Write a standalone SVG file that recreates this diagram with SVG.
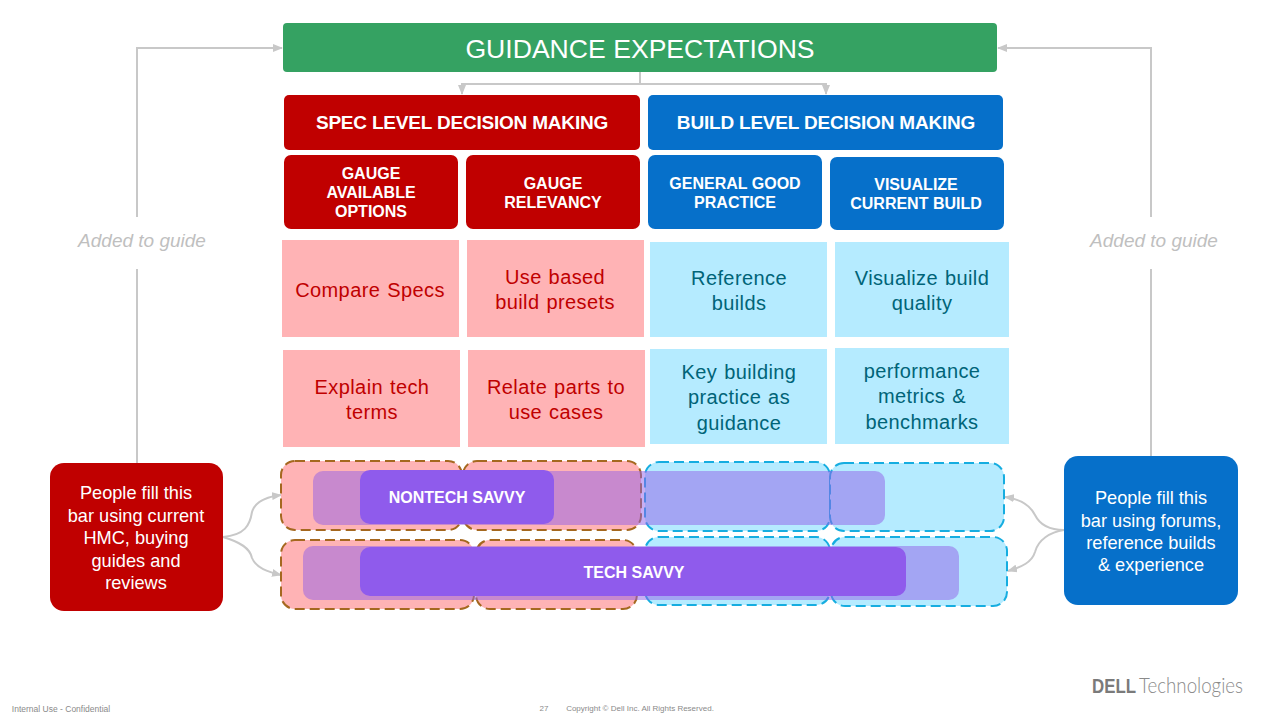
<svg xmlns="http://www.w3.org/2000/svg" width="1280" height="720" viewBox="0 0 1280 720">
<style>
text{font-family:"Liberation Sans",Arial,sans-serif;text-anchor:middle}
.red{fill:#c00000}.blue{fill:#0670ca}.pink{fill:#ffb3b5}.sky{fill:#b5ebff}
.hd{font-size:19px;font-weight:bold;fill:#fff;letter-spacing:-.2px}
.sub{font-size:16px;font-weight:bold;fill:#fff}
.rt{font-size:20px;fill:#c00000;letter-spacing:.4px;word-spacing:1px}
.bt{font-size:20px;fill:#006478;letter-spacing:.4px;word-spacing:1px}
.wt{font-size:18.2px;fill:#fff}
.ag{font-size:19px;font-style:italic;fill:#bfbfbf}
.pd{fill:#ffb3b5;stroke:#a5681f;stroke-width:2;stroke-dasharray:10 5}
.bd{fill:#b5ebff;stroke:#16ade0;stroke-width:2;stroke-dasharray:10 5}
.lt{fill:#9160e8;opacity:.5}
.dk{fill:#8f5bec}
.lb{font-size:16px;font-weight:bold;fill:#fff}
.ft{font-size:8.5px;fill:#8a8a8a}
.ft2{font-size:8px;fill:#8a8a8a}
.con{fill:none;stroke:#c8c8c8;stroke-width:2}
</style>
<defs>
<marker id="a" markerWidth="10" markerHeight="8" refX="9" refY="4" orient="auto" markerUnits="userSpaceOnUse"><path d="M0 0L10 4L0 8Z" fill="#c8c8c8"/></marker>
</defs>
<g id="connectors">
<path class="con" d="M640 72V84" />
<path class="con" d="M462 94V84H826V94" marker-end="url(#a)"/>
<path class="con" d="M462 84V94" marker-end="url(#a)"/>
<path class="con" d="M137 463V269M137 217V48H282" marker-end="url(#a)"/>
<path class="con" d="M1151 457V269M1151 217V48H998" marker-end="url(#a)"/>
<path class="con" d="M223 537C245 535 250 525 252 512C255 502 265 497 281 495" marker-end="url(#a)"/>
<path class="con" d="M223 537C240 542 250 548 252 558C256 568 268 572 281 575" marker-end="url(#a)"/>
<path class="con" d="M1064 530C1050 530 1040 525 1035 515C1030 505 1020 499 1005 497" marker-end="url(#a)"/>
<path class="con" d="M1064 530C1050 532 1038 540 1035 552C1032 562 1022 567 1008 571" marker-end="url(#a)"/>
</g>
<g id="title"><rect x="283" y="23" width="714" height="49" rx="4" fill="#35a262"/><text x="640" y="58" font-size="26.6" fill="#fff">GUIDANCE EXPECTATIONS</text></g>
<g id="spec-header"><rect class="red" x="284" y="95" width="356" height="55" rx="5"/><text class="hd" x="462" y="129">SPEC LEVEL DECISION MAKING</text></g>
<g id="build-header"><rect class="blue" x="648" y="95" width="355" height="55" rx="5"/><text class="hd" x="826" y="129">BUILD LEVEL DECISION MAKING</text></g>
<g id="gauge-options"><rect class="red" x="284" y="155" width="174" height="74" rx="7"/><text class="sub" x="371" y="179">GAUGE</text><text class="sub" x="371" y="198">AVAILABLE</text><text class="sub" x="371" y="217">OPTIONS</text></g>
<g id="gauge-relevancy"><rect class="red" x="466" y="155" width="174" height="74" rx="7"/><text class="sub" x="553" y="189">GAUGE</text><text class="sub" x="553" y="208">RELEVANCY</text></g>
<g id="good-practice"><rect class="blue" x="648" y="155" width="174" height="74" rx="7"/><text class="sub" x="735" y="189">GENERAL GOOD</text><text class="sub" x="735" y="208">PRACTICE</text></g>
<g id="visualize"><rect class="blue" x="830" y="157" width="174" height="73" rx="7"/><text class="sub" x="916" y="190">VISUALIZE</text><text class="sub" x="916" y="209">CURRENT BUILD</text></g>
<g id="compare"><rect class="pink" x="282" y="240" width="177" height="97"/><text class="rt" x="370" y="297">Compare Specs</text></g>
<g id="presets"><rect class="pink" x="467" y="240" width="177" height="97"/><text class="rt" x="555" y="284">Use based</text><text class="rt" x="555" y="309">build presets</text></g>
<g id="reference"><rect class="sky" x="650" y="242" width="177" height="95"/><text class="bt" x="739" y="285">Reference</text><text class="bt" x="739" y="310">builds</text></g>
<g id="quality"><rect class="sky" x="835" y="242" width="174" height="95"/><text class="bt" x="922" y="285">Visualize build</text><text class="bt" x="922" y="310">quality</text></g>
<g id="explain"><rect class="pink" x="283" y="350" width="177" height="97"/><text class="rt" x="372" y="394">Explain tech</text><text class="rt" x="372" y="419">terms</text></g>
<g id="relate"><rect class="pink" x="468" y="350" width="177" height="97"/><text class="rt" x="556" y="394">Relate parts to</text><text class="rt" x="556" y="419">use cases</text></g>
<g id="key-practice"><rect class="sky" x="650" y="349" width="177" height="95"/><text class="bt" x="739" y="379">Key building</text><text class="bt" x="739" y="404">practice as</text><text class="bt" x="739" y="430">guidance</text></g>
<g id="metrics"><rect class="sky" x="835" y="348" width="174" height="96"/><text class="bt" x="922" y="378">performance</text><text class="bt" x="922" y="403">metrics &amp;</text><text class="bt" x="922" y="429">benchmarks</text></g>
<g id="added-left"><text class="ag" x="142" y="247">Added to guide</text></g>
<g id="added-right"><text class="ag" x="1154" y="247">Added to guide</text></g>
<g id="fill-left"><rect class="red" x="50" y="463" width="173" height="148" rx="14"/><text class="wt" x="136" y="499">People fill this</text><text class="wt" x="136" y="522">bar using current</text><text class="wt" x="136" y="544">HMC, buying</text><text class="wt" x="136" y="567">guides and</text><text class="wt" x="136" y="589">reviews</text></g>
<g id="fill-right"><rect class="blue" x="1064" y="456" width="174" height="149" rx="14"/><text class="wt" x="1151" y="504">People fill this</text><text class="wt" x="1151" y="527">bar using forums,</text><text class="wt" x="1151" y="549">reference builds</text><text class="wt" x="1151" y="571">&amp; experience</text></g>
<g id="bars">
<rect class="pd" x="281" y="461" width="181" height="69" rx="14"/>
<rect class="pd" x="463" y="461" width="178" height="69" rx="14"/>
<rect class="pd" x="281" y="540" width="193" height="69" rx="14"/>
<rect class="pd" x="476" y="540" width="161" height="69" rx="14"/>
<rect class="bd" x="645" y="462" width="185" height="69" rx="14"/>
<rect class="bd" x="830" y="463" width="174" height="68" rx="14"/>
<rect class="bd" x="645" y="537" width="185" height="68" rx="14"/>
<rect class="bd" x="831" y="537" width="176" height="69" rx="14"/>
</g>
<g id="nontech-savvy"><rect class="lt" x="313" y="471" width="572" height="54" rx="10"/><rect class="dk" x="360" y="470" width="194" height="54" rx="10"/><text class="lb" x="457" y="503">NONTECH SAVVY</text></g>
<g id="tech-savvy"><rect class="lt" x="303" y="546" width="656" height="54" rx="10"/><rect class="dk" x="360" y="547" width="546" height="49" rx="10"/><text class="lb" x="634" y="578">TECH SAVVY</text></g>
<g id="footer">
<text class="ft" x="61" y="712">Internal Use - Confidential</text>
<text class="ft2" x="544" y="711">27</text>
<text class="ft2" x="640" y="711">Copyright © Dell Inc. All Rights Reserved.</text>
</g>
<g id="logo"><text x="1114" y="693" font-size="20" font-weight="bold" fill="#7a7a7a" textLength="44" lengthAdjust="spacingAndGlyphs">DELL</text><text x="1191" y="693" font-size="21" font-weight="300" fill="#8a8a8a" textLength="104" lengthAdjust="spacingAndGlyphs" style="font-family:Lato,'Liberation Sans',sans-serif">Technologies</text></g>
</svg>
